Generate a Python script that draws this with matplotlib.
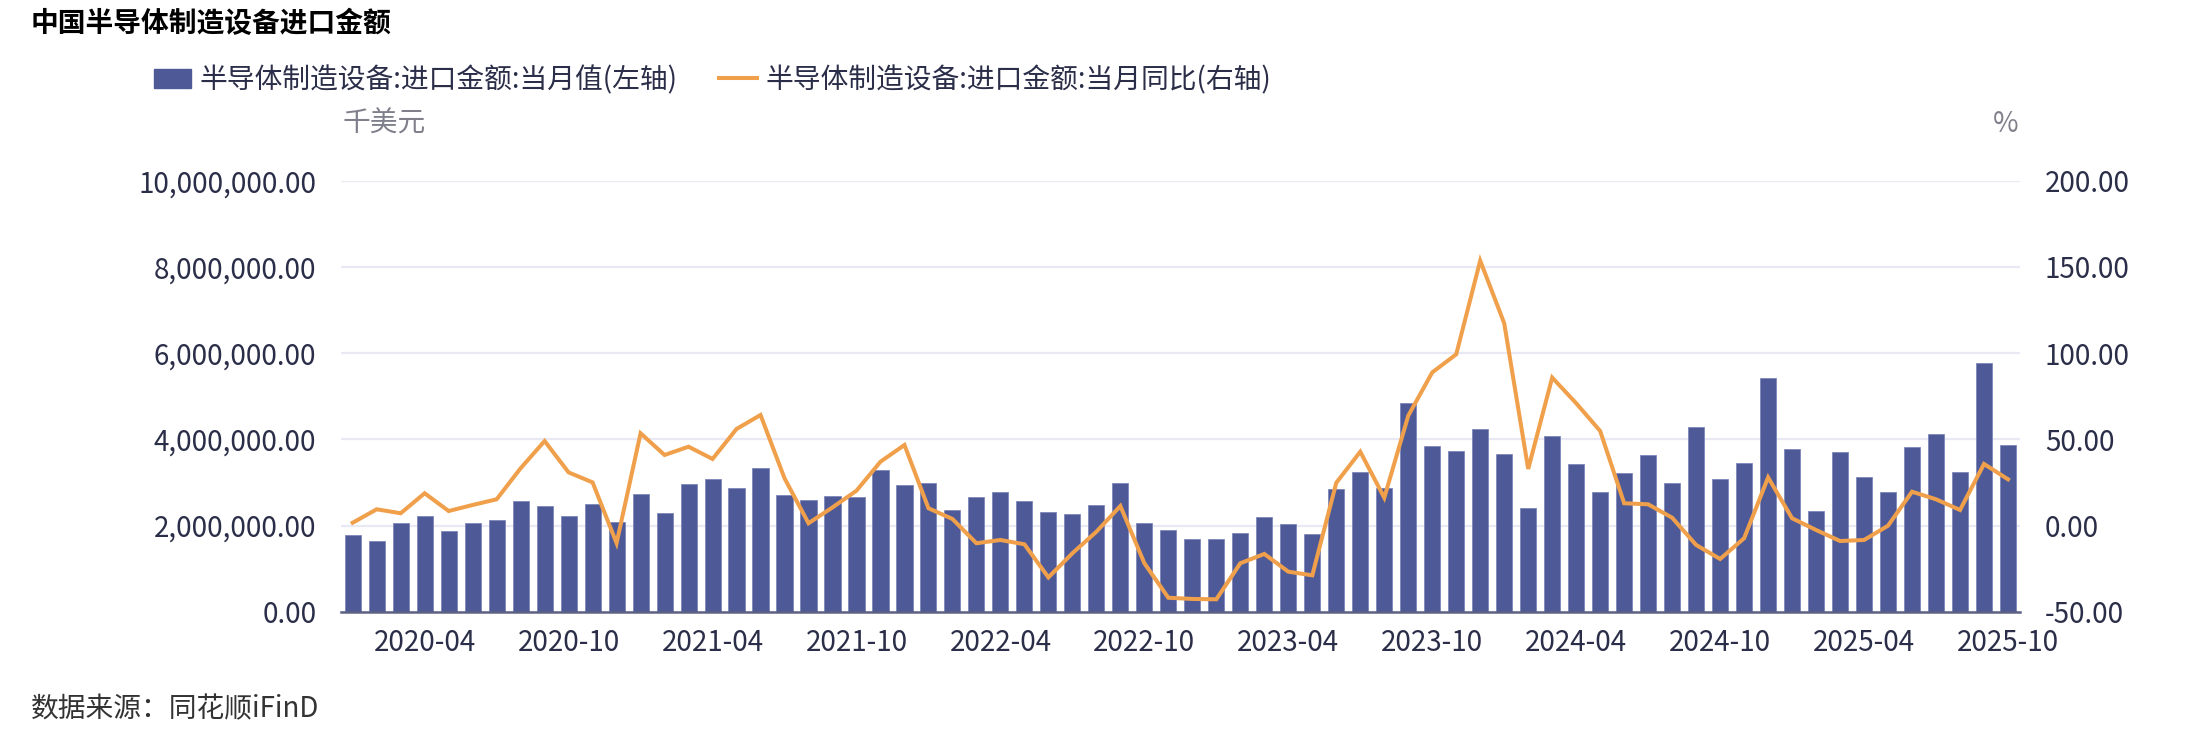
import numpy as np
import pandas as pd
import matplotlib.pyplot as plt
from matplotlib.patches import Patch
from matplotlib.lines import Line2D
from matplotlib.ticker import FuncFormatter

plt.rcParams['font.family'] = ['Noto Sans CJK SC', 'DejaVu Sans']

# monthly data, 2020-01 .. 2025-10
months = pd.date_range('2020-01-01', periods=70, freq='MS').strftime('%Y-%m').tolist()

# import value, million USD (plotted in thousand USD)
import_value = [
    1.78, 1.64, 2.05, 2.23, 1.87, 2.05, 2.13, 2.57, 2.46, 2.23, 2.49, 2.07,
    2.72, 2.28, 2.97, 3.07, 2.88, 3.34, 2.70, 2.59, 2.69, 2.65, 3.29, 2.95,
    2.98, 2.36, 2.65, 2.78, 2.57, 2.31, 2.27, 2.48, 2.99, 2.05, 1.89, 1.69,
    1.69, 1.83, 2.20, 2.03, 1.81, 2.85, 3.24, 2.86, 4.85, 3.84, 3.74, 4.25,
    3.65, 2.41, 4.08, 3.43, 2.78, 3.22, 3.63, 2.98, 4.28, 3.08, 3.44, 5.43,
    3.77, 2.34, 3.70, 3.12, 2.77, 3.83, 4.13, 3.23, 5.78, 3.87,
]
# year-on-year change, %
yoy = [
    1.6, 9.4, 7.1, 18.7, 8.4, 11.9, 15.2, 33.2, 49.0, 30.8, 25.0, -10.2,
    53.5, 40.9, 45.7, 38.6, 56.0, 64.1, 27.4, 1.3, 10.5, 20.2, 37.0, 46.7,
    10.0, 3.8, -10.3, -8.4, -10.9, -30.1, -16.1, -3.6, 11.3, -21.9, -41.9, -42.6,
    -42.8, -21.9, -16.5, -26.8, -28.9, 24.8, 42.8, 16.1, 63.7, 88.8, 99.3, 153.6,
    117.3, 32.8, 85.8, 70.9, 54.8, 12.9, 12.3, 4.5, -11.3, -19.4, -7.4, 27.9,
    4.2, -2.6, -9.0, -8.4, -0.1, 19.6, 15.2, 9.0, 35.7, 26.8,
]

bar_label = '半导体制造设备:进口金额:当月值(左轴)'
line_label = '半导体制造设备:进口金额:当月同比(右轴)'

bar_color = '#4e5a98'
line_color = '#f0a04b'
tick_color = '#2b2e48'
unit_color = '#80808c'
grid_color = '#e9e9f6'

fig = plt.figure(figsize=(22.02, 7.30), dpi=100)
ax = fig.add_axes([340.7 / 2202, 118.3 / 730, (2020 - 340.7) / 2202, 431 / 730])

x = np.arange(len(months))
ax.bar(x, np.array(import_value) * 1e6, width=0.67, color=bar_color,
       edgecolor='#7d86b8', linewidth=0.6, zorder=2)
ax.set_xlim(-0.5, len(months) - 0.5)
ax.set_ylim(0, 10e6)
ax.set_yticks(np.arange(0, 10.01e6, 2e6))
ax.yaxis.set_major_formatter(FuncFormatter(lambda v, p: f'{v:,.2f}'))
ax.grid(axis='y', color=grid_color, linewidth=1.6)
ax.set_axisbelow(True)

tick_idx = list(range(3, len(months), 6))
ax.set_xticks(tick_idx)
ax.set_xticklabels([months[i] for i in tick_idx])

for s in ['top', 'left', 'right']:
    ax.spines[s].set_visible(False)
ax.spines['bottom'].set_color('#5d6283')
ax.spines['bottom'].set_linewidth(1.8)
ax.tick_params(axis='x', length=0, pad=12, labelsize=20, labelcolor=tick_color)
ax.tick_params(axis='y', length=0, pad=17.5, labelsize=20, labelcolor=tick_color)

ax2 = ax.twinx()
ax2.plot(x, yoy, color=line_color, linewidth=2.9, solid_joinstyle='miter', zorder=3)
ax2.set_ylim(-50, 200)
ax2.set_yticks(np.arange(-50, 201, 50))
ax2.yaxis.set_major_formatter(FuncFormatter(lambda v, p: f'{v:.2f}'))
for s in ['top', 'left', 'right', 'bottom']:
    ax2.spines[s].set_visible(False)
ax2.tick_params(axis='y', length=0, pad=18, labelsize=20, labelcolor=tick_color)

# titles and units
fig.text(31 / 2202, 1 - 24 / 730, '中国半导体制造设备进口金额', fontsize=20,
         fontweight='bold', color='black', va='center', ha='left')
fig.text(343 / 2202, 1 - 124 / 730, '千美元', fontsize=20, color=unit_color,
         va='center', ha='left')
fig.text(2019 / 2202, 1 - 124 / 730, '%', fontsize=20, color=unit_color,
         va='center', ha='right')
fig.text(31 / 2202, 1 - 709 / 730, '数据来源：同花顺iFinD', fontsize=20,
         color='#333333', va='center', ha='left')

handles = [Patch(facecolor=bar_color, edgecolor=bar_color),
           Line2D([0], [0], color=line_color, linewidth=2.9)]
fig.legend(handles, [bar_label, line_label], ncol=2, loc='center left',
           bbox_to_anchor=(140 / 2202, 1 - 80 / 730), frameon=False,
           fontsize=20, handlelength=1.35, handletextpad=0.3,
           columnspacing=1.5, labelcolor=tick_color, borderpad=0)

fig.savefig('out.png', dpi=100)
